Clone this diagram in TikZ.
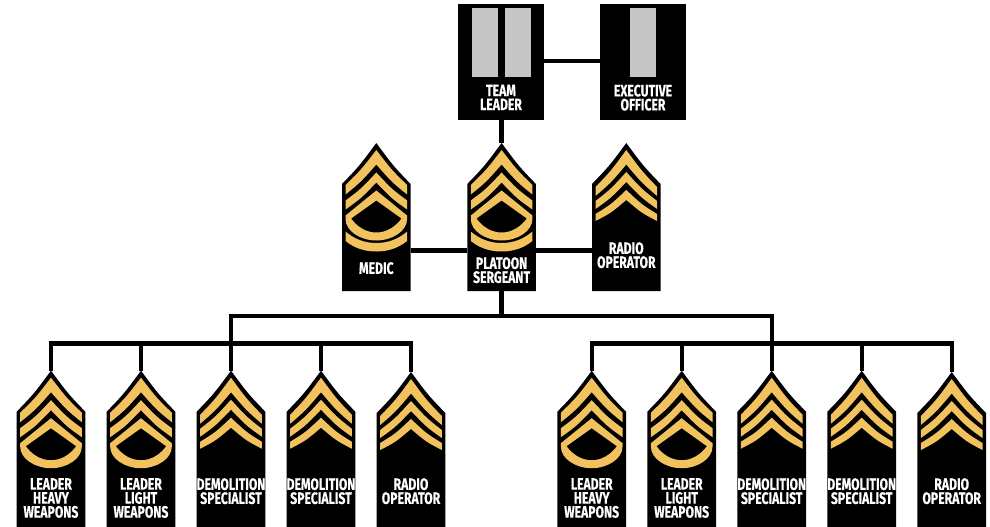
\documentclass[tikz,border=0pt]{standalone}
\usepackage{fontspec}
\setmainfont{Fira Sans}[BoldFont={Fira Sans Bold},BoldFeatures={FakeStretch=0.74,FakeBold=0.25}]
\definecolor{gold}{HTML}{F2C25F}
\definecolor{bar}{HTML}{C6C6C6}
\tikzset{
  blk/.style={fill=black,draw=none},
  goldfill/.style={fill=gold,draw=none},
  barfill/.style={fill=bar,draw=none},
  link/.style={draw=black,line width=4.4pt},
  lbl/.style={text=white,font=\fontsize{16.5}{14}\selectfont\bfseries,align=center,inner sep=0pt,anchor=north},
}
\newcommand{\chevron}[4]{%
  \pgfmathsetmacro\ca{(#1+#2)/2+2.5}\pgfmathsetmacro\cb{(#3+#4)/2+2.5}%
  \fill[goldfill] (0,#1) .. controls (15.4,\ca) .. (30.8,#2) -- (30.8,#3)
    .. controls (15.4,\cb) .. (0,#4) .. controls (-15.4,\cb) .. (-30.8,#3)
    -- (-30.8,#2) .. controls (-15.4,\ca) .. (0,#1) -- cycle;}
\newcommand{\shieldbg}[1]{%
  \fill[blk] (0,0) .. controls (17,23) .. (34.3,41) -- (34.3,#1) -- (-34.3,#1) -- (-34.3,41) .. controls (-17,23) .. (0,0) -- cycle;}
\newcommand{\stripesTwo}{\chevron{7}{42}{51.5}{21.5}\chevron{29.5}{57.5}{66.5}{39.5}}
\newcommand{\loopband}{%
  \fill[goldfill,even odd rule]
    (0,47.5) .. controls (15.4,60.5) .. (30.8,72.5) -- (30.8,76) .. controls (30.8,88) and (16,97.5) .. (0,97.5)
    .. controls (-16,97.5) and (-30.8,88) .. (-30.8,76) -- (-30.8,72.5) .. controls (-15.4,60.5) .. (0,47.5) -- cycle
    (0,57.5) .. controls (12.5,66.5) .. (25.2,75.5) .. controls (19,84) and (10,89.5) .. (0,89.5)
    .. controls (-10,89.5) and (-19,84) .. (-25.2,75.5) .. controls (-12.5,66.5) .. (0,57.5) -- cycle;}
\newcommand{\rocker}{%
  \fill[goldfill] (-30.8,88.5) .. controls (-22,96) and (-12,100) .. (0,100)
    .. controls (12,100) and (22,96) .. (30.8,88.5) -- (30.8,98)
    .. controls (22,105) and (12,108.5) .. (0,108.5)
    .. controls (-12,108.5) and (-22,105) .. (-30.8,98) -- cycle;}
\newcommand{\badgeA}{\stripesTwo\loopband\rocker}
\newcommand{\badgeB}{\stripesTwo\loopband}
\newcommand{\badgeC}{\chevron{7}{44}{53}{21.5}\chevron{29}{58}{66}{39}\chevron{47}{71}{78}{57}}
\newcommand{\badge}[7]{%
  \begin{scope}[shift={(#2,#3)}]
    \shieldbg{#4}#5
  \end{scope}
  \coordinate (#1-top) at (#2,#3);
  \coordinate (#1-left) at (#2-34.3,250.3);
  \coordinate (#1-right) at (#2+34.3,250.3);
  \node[lbl] (#1) at (#2,#6) {#7};
}
\begin{document}
\begin{tikzpicture}[x=1pt,y=-1pt]
\useasboundingbox (0,0) rectangle (990,527);
\coordinate (busL) at (51,343.3);
\coordinate (busR) at (951.7,343.3);
\coordinate (trunk) at (501.6,316);
\coordinate (tlc) at (501.6,120);
\fill[blk] (458,4) rectangle (544,120);
\node[lbl] (teamleader) at (501,84.5) {TEAM\\LEADER};
\fill[barfill] (472,8) rectangle (498,77);
\fill[barfill] (505,8) rectangle (531,77);
\fill[blk] (600,4) rectangle (686,120);
\fill[barfill] (630,8) rectangle (656,77);
\node[lbl] (xo) at (643,84.5) {EXECUTIVE\\OFFICER};
\coordinate (tlr) at (544,61);
\coordinate (xol) at (600,61);
\draw[link] (tlr) -- (xol);
\badge{medic}{376.3}{143}{148}{\badgeA}{262}{MEDIC}
\badge{ps}{501.6}{143}{148}{\badgeA}{257}{PLATOON\\SERGEANT}
\badge{rad}{626.3}{143}{148}{\badgeC}{242}{RADIO\\OPERATOR}
\draw[link] (tlc) -- (ps-top);
\draw[link] (medic-right) -- (ps-left);
\draw[link] (ps-right) -- (rad-left);
\coordinate (psb) at (501.6,291);
\draw[link] (psb) -- (trunk);
\coordinate (c1) at (231,316);
\coordinate (c2) at (771.8,316);
\draw[link,line cap=rect] (c1) -- (c2);
\coordinate (l3) at (231,343.3);
\coordinate (r3) at (771.8,343.3);
\draw[link] (c1) -- (l3);
\draw[link] (c2) -- (r3);
\badge{a1}{51}{370.7}{157}{\badgeB}{478}{LEADER\\HEAVY\\WEAPONS}
\badge{a2}{141}{370.7}{157}{\badgeB}{478}{LEADER\\LIGHT\\WEAPONS}
\badge{a3}{231}{370.7}{157}{\badgeC}{478}{DEMOLITION\\SPECIALIST}
\badge{a4}{321}{370.7}{157}{\badgeC}{478}{DEMOLITION\\SPECIALIST}
\badge{a5}{411}{372}{157}{\badgeC}{478}{RADIO\\OPERATOR}
\badge{b1}{591.7}{370.7}{157}{\badgeB}{478}{LEADER\\HEAVY\\WEAPONS}
\badge{b2}{681.7}{370.7}{157}{\badgeB}{478}{LEADER\\LIGHT\\WEAPONS}
\badge{b3}{771.7}{370.7}{157}{\badgeC}{478}{DEMOLITION\\SPECIALIST}
\badge{b4}{861.7}{370.7}{157}{\badgeC}{478}{DEMOLITION\\SPECIALIST}
\badge{b5}{951.7}{372}{157}{\badgeC}{478}{RADIO\\OPERATOR}
\draw[link,line cap=rect] (a1-top |- busL) -- (a5-top |- busL);
\draw[link,line cap=rect] (b1-top |- busR) -- (b5-top |- busR);
\foreach \n in {a1,a2,a3,a4,a5,b1,b2,b3,b4,b5}{
  \draw[link] (\n-top |- busL) -- (\n-top);
}
\end{tikzpicture}
\end{document}
